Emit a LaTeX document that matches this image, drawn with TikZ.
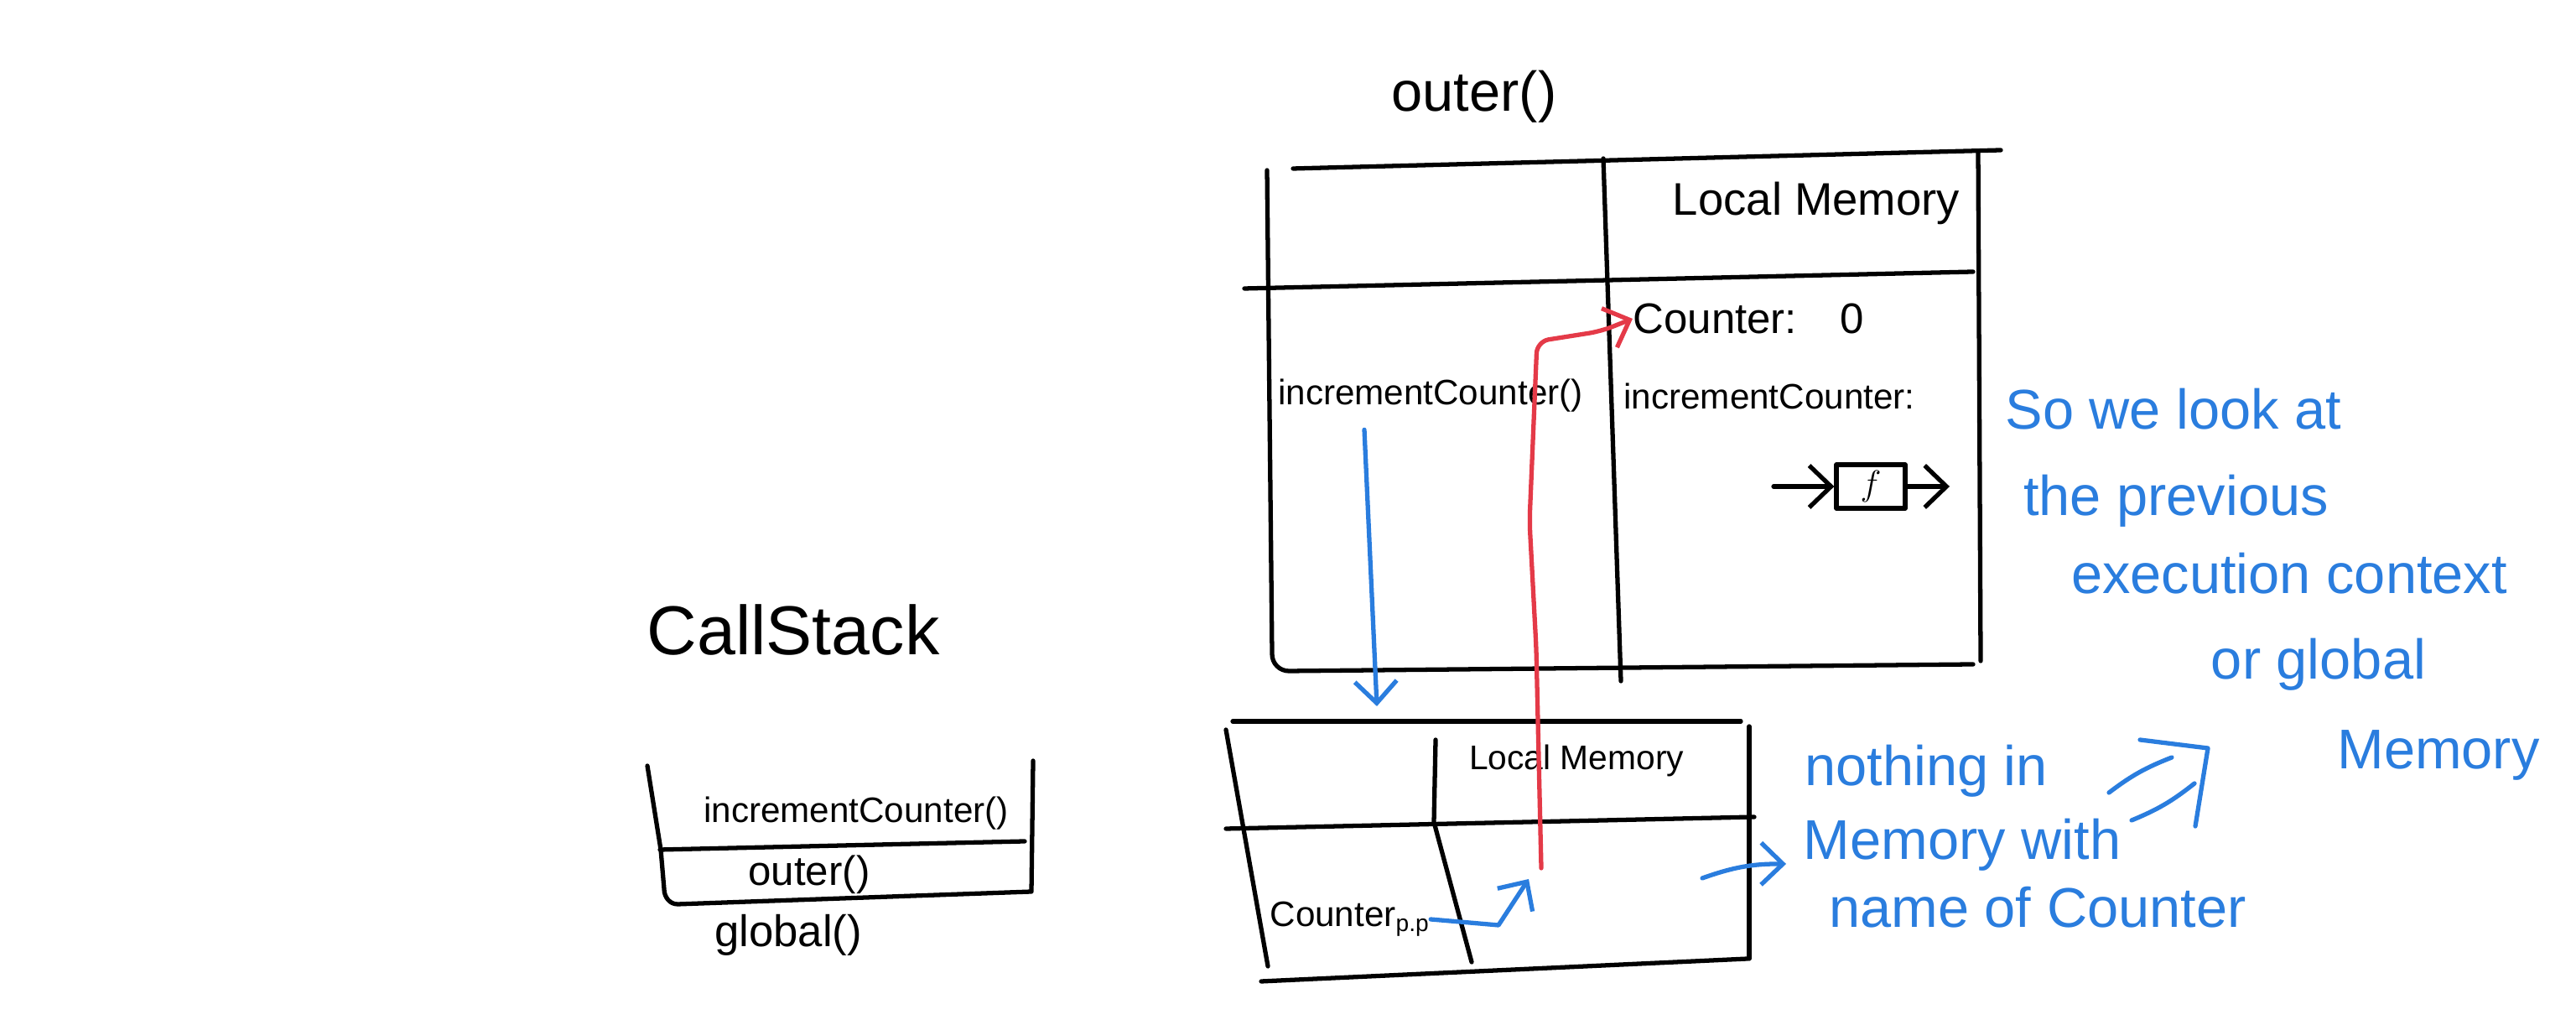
\documentclass[tikz,border=0pt]{standalone}
\usepackage{fontspec}
\setmainfont{Liberation Sans}
\usetikzlibrary{arrows.meta}
\definecolor{inkblue}{RGB}{42,125,222}
\definecolor{inkred}{RGB}{228,58,72}

\begin{document}
\begin{tikzpicture}[
    pen/.style={line width=1.5pt, line cap=round, line join=round},
    bluepen/.style={pen, draw=inkblue},
    redpen/.style={pen, draw=inkred},
    barb/.style={-{Straight Barb[length=2.6mm,width=5mm]}},
    word/.style={inner sep=0pt, font=\fontsize{12}{14}\selectfont},
    note/.style={inner sep=0pt, text=inkblue, font=\fontsize{19}{21}\selectfont}]
    \useasboundingbox (0,0) rectangle (30.72,12.22);
    \node[word, font=\fontsize{19}{21}\selectfont] (outertitle) at (17.58,11.07) {outer()};
    \draw[pen] (15.42,10.21) -- (23.86,10.43);
    \draw[pen] (15.11,10.19) -- (15.17,4.42) to[out=-90,in=180] (15.37,4.22) -- (23.53,4.30);
    \draw[pen] (23.59,10.41) -- (23.62,4.34);
    \draw[pen] (19.12,10.33) -- (19.33,4.10);
    \draw[pen] (14.84,8.78) -- (23.53,8.98);
    \node[word, font=\fontsize{15.5}{18}\selectfont] (outermem) at (21.66,9.80) {Local Memory};
    \node[word, font=\fontsize{14.5}{17}\selectfont] (counter) at (20.85,8.42) {Counter:\quad 0};
    \node[word] (incdef) at (21.10,7.50) {incrementCounter:};
    \node[word] (inccall) at (17.06,7.50) {incrementCounter()};
    \node[draw, pen, minimum width=0.82cm, minimum height=0.52cm, inner sep=0pt, word] (fbox) at (22.31,6.42) {$f$};
    \coordinate (fin) at (21.15,6.42);
    \coordinate (fout) at (23.25,6.42);
    \draw[pen, barb] (fin) -- (fbox);
    \draw[pen, barb] (fbox) -- (fout);
    \coordinate (down) at (16.42,3.80);
    \draw[bluepen, barb] ([xshift=-0.79cm,yshift=-0.2cm]inccall.south) -- (down);

    \draw[pen] (14.70,3.62) -- (20.76,3.62);
    \draw[pen] (14.62,3.52) -- (15.12,0.70);
    \draw[pen] (20.86,3.56) -- (20.86,0.79);
    \draw[pen] (17.12,3.40) -- (17.10,2.42) -- (17.55,0.75);
    \draw[pen] (14.62,2.34) -- (20.92,2.48);
    \draw[pen] (15.04,0.52) -- (20.84,0.79);
    \node[word, font=\fontsize{11.6}{14}\selectfont] (innermem) at (18.80,3.15) {Local Memory};
    \node[word] (ctr) at (16.10,1.26) {Counter\textsubscript{p.p}};
    \coordinate (lookup) at (18.23,1.74);
    \draw[bluepen, barb] (ctr.east) -- (17.87,1.19) -- (lookup);
    \coordinate (redstart) at (18.38,1.87);
    \draw[redpen, barb, rounded corners=4pt] (redstart) -- (18.32,4.50) -- (18.24,6.00) -- (18.33,8.15) -- (19.09,8.27) -- (counter.west);
    \coordinate (exitA) at (20.30,1.75);
    \coordinate (exitB) at (21.30,1.92);
    \draw[bluepen, barb] (exitA) to[bend left=10] (exitB);

    \node[note] (nothing1) at (22.97,3.03) {nothing in};
    \node[note] (nothing2) at (23.40,2.15) {Memory with};
    \node[note] (nothing3) at (24.30,1.40) {name of Counter};
    \draw[bluepen] (25.52,3.40) -- (26.33,3.30) -- (26.18,2.37);
    \draw[bluepen] (25.15,2.77) to[bend left=8] (25.90,3.19);
    \draw[bluepen] (25.42,2.44) to[bend right=8] (26.17,2.88);
    \node[note] (look1) at (25.92,7.34) {So we look at};
    \node[note] (look2) at (25.95,6.25) {the previous};
    \node[note] (look3) at (27.30,5.38) {execution context};
    \node[note] (look4) at (27.65,4.30) {or global};
    \node[note] (look5) at (29.08,3.22) {Memory};

    \node[word, font=\fontsize{23.5}{26}\selectfont] (stacktitle) at (9.46,4.71) {CallStack};
    \draw[pen] (7.72,3.09) -- (7.88,2.09) -- (7.92,1.62) to[out=-90,in=180] (8.08,1.44) -- (12.30,1.59) -- (12.32,3.15);
    \draw[pen] (7.87,2.09) -- (12.22,2.19);
    \node[word] (frameinc) at (10.21,2.52) {incrementCounter()};
    \node[word, font=\fontsize{14}{16}\selectfont] (frameouter) at (9.65,1.79) {outer()};
    \node[word, font=\fontsize{15}{17}\selectfont] (frameglobal) at (9.40,1.07) {global()};
\end{tikzpicture}
\end{document}
